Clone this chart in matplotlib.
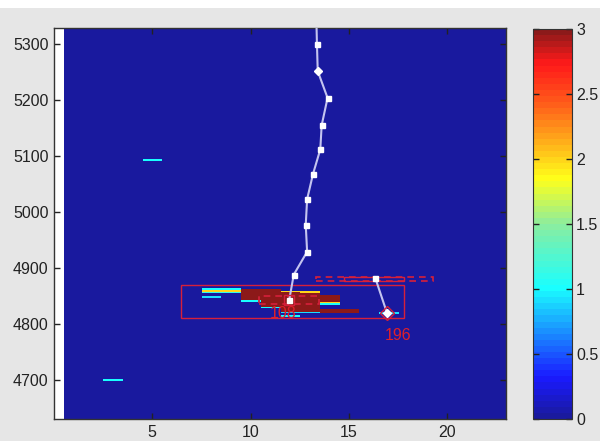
import numpy as np
import matplotlib
matplotlib.use("Agg")
import matplotlib.pyplot as plt
from matplotlib.colors import LinearSegmentedColormap
from matplotlib.patches import Rectangle

plt.rcParams['font.family'] = ['Liberation Sans Narrow', 'Liberation Sans', 'DejaVu Sans']

# ---- data ----
# strips painted on the grid: x-cell range (inclusive), y range, value
strip_x0 = [5, 3, 8, 8, 8, 8, 10, 10, 11, 11, 12, 13, 12, 14, 14, 14, 13, 12, 12, 17]
strip_x1 = [5, 3, 9, 9, 9, 8, 11, 10, 11, 11, 13, 13, 13, 14, 14, 14, 15, 13, 12, 17]
strip_y0 = [5091, 4698, 4860, 4857, 4855, 4847, 4843, 4840, 4831, 4829, 4821, 4855, 4857, 4840, 4837, 4833, 4820, 4819, 4813, 4818]
strip_y1 = [5094, 4701, 4864, 4860, 4857, 4850, 4862, 4843, 4843, 4831, 4857, 4857, 4859, 4852, 4840, 4837, 4826, 4822, 4816, 4821]
strip_val = [1.0, 1.0, 1.0, 2.0, 1.1, 0.9, 3.0, 1.0, 3.0, 1.0, 3.0, 2.0, 2.0, 3.0, 2.0, 1.0, 3.0, 0.9, 1.0, 0.9]

track1_x = [13.35, 13.38, 13.42, 13.92, 13.62, 13.55, 13.18, 12.88, 12.81, 12.88, 12.2, 11.97]
track1_y = [5345, 5300, 5252, 5204, 5155, 5112, 5068, 5023, 4977, 4929, 4888, 4843]
track2_x = [16.35, 16.94]
track2_y = [4882, 4820]

box_solid = [6.47, 4811, 17.81, 4869]      # x0, y0, x1, y1
box_dash = [13.32, 4876, 19.3, 4883]
box_inner = [14.78, 4876, 17.81, 4883]
box_dash2 = [10.45, 4836, 13.5, 4849]

labels_txt = ['108', '196']
labels_x = [11.67, 17.5]
labels_y = [4818, 4779]

xticks = [5, 10, 15, 20]
yticks = [4700, 4800, 4900, 5000, 5100, 5200, 5300]
cticks = [0, 0.5, 1, 1.5, 2, 2.5, 3]

# ---- grid ----
ncols = 23
y_lo, y_hi = 4620, 5340
grid = np.zeros((y_hi - y_lo, ncols))
for x0, x1, y0, y1, v in zip(strip_x0, strip_x1, strip_y0, strip_y1, strip_val):
    grid[y0 - y_lo:y1 - y_lo, x0 - 1:x1] = v

cmap = LinearSegmentedColormap.from_list('c', [
    (0.0, (0.10, 0.10, 0.62)),
    (0.30 / 3, (0.10, 0.10, 1.0)),
    (0.55 / 3, (0.10, 0.42, 1.0)),
    (1.0 / 3, (0.10, 1.0, 1.0)),
    (1.5 / 3, (0.55, 0.93, 0.62)),
    (1.85 / 3, (1.0, 1.0, 0.10)),
    (2.45 / 3, (1.0, 0.35, 0.10)),
    (2.75 / 3, (1.0, 0.10, 0.10)),
    (1.0, (0.55, 0.10, 0.10)),
], N=64)

W, H = 600, 441
fig = plt.figure(figsize=(W / 100, H / 100), dpi=100, facecolor='#e6e6e6')
fig.patches.append(Rectangle((0, 1 - 8 / H), 1, 8 / H, transform=fig.transFigure,
                             facecolor='white', edgecolor='none', zorder=0))

ax = fig.add_axes([54 / W, 1 - 419 / H, (506 - 54) / W, (419 - 28) / H])
ax.set_facecolor('white')
im = ax.imshow(grid, cmap=cmap, vmin=0, vmax=3, origin='lower', aspect='auto',
               interpolation='nearest', extent=[0.5, ncols + 0.5, y_lo, y_hi])
ax.set_xlim(0, 23)
ax.set_ylim(4630, 5329)

rc = '#d6203a'
def rect(b, ls, lw=1.0):
    ax.add_patch(Rectangle((b[0], b[1]), b[2] - b[0], b[3] - b[1], fill=False,
                           edgecolor=rc, linestyle=ls, linewidth=lw, zorder=3))
rect(box_solid, '-')
rect(box_dash, (0, (4, 3)), 1.2)
rect(box_inner, '-')
rect(box_dash2, (0, (4, 3)), 1.2)

lc = '#c4c4f0'
ax.plot(track1_x, track1_y, color=lc, lw=1.5, zorder=4)
ax.plot(track1_x[1:2] + track1_x[3:], track1_y[1:2] + track1_y[3:], ls='none', marker='s',
        ms=3.6, mfc='white', mec='white', zorder=5)
ax.plot(track1_x[2], track1_y[2], ls='none', marker='D', ms=4.2, mfc='white', mec='white', zorder=5)
ax.plot(track1_x[-1], track1_y[-1], ls='none', marker='s', ms=6.5, mfc='none', mec=rc, mew=1, zorder=5)
ax.plot(track2_x, track2_y, color=lc, lw=1.5, zorder=4)
ax.plot(track2_x[0], track2_y[0], ls='none', marker='s', ms=3.6, mfc='white', mec='white', zorder=5)
ax.plot(track2_x[1], track2_y[1], ls='none', marker='D', ms=4.5, mfc='white', mec='white', zorder=5)
ax.plot(track2_x[1], track2_y[1], ls='none', marker='D', ms=7, mfc='none', mec=rc, mew=1, zorder=5)

for t, x, y in zip(labels_txt, labels_x, labels_y):
    ax.text(x, y, t, color='#e0202a', fontsize=11.5, ha='center', va='center', zorder=6)

ax.set_xticks(xticks)
ax.set_yticks(yticks)
ax.tick_params(direction='in', length=4, width=1, top=True, right=True, labelsize=11.5,
               colors='#222222', pad=4)
for s in ax.spines.values():
    s.set_color('#333333')
    s.set_linewidth(1)

cax = fig.add_axes([533 / W, 1 - 419 / H, (572 - 533) / W, (419 - 29) / H])
cb = fig.colorbar(im, cax=cax, ticks=cticks)
cb.ax.set_yticklabels(['0', '0.5', '1', '1.5', '2', '2.5', '3'])
cb.ax.tick_params(direction='in', length=4, width=1, left=True, right=True, labelsize=11.5,
                  colors='#222222', pad=3)
cb.outline.set_edgecolor('#333333')

fig.savefig('out.png', dpi=100, facecolor=fig.get_facecolor())
